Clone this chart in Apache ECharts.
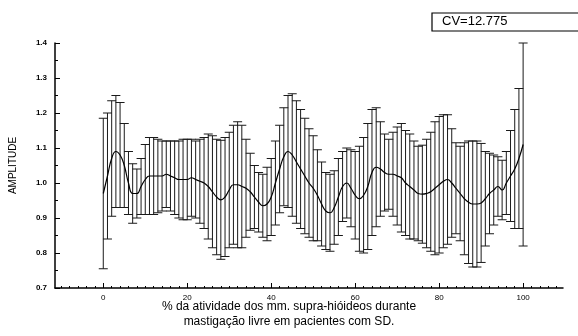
<!DOCTYPE html>
<html>
<head>
<meta charset="utf-8">
<script src="https://cdn.jsdelivr.net/npm/echarts@6/dist/echarts.min.js"></script>
<style>
  html, body { margin: 0; padding: 0; background: #fff; }
  #chart { width: 578px; height: 336px; }
</style>
</head>
<body>
<div id="chart"></div>
<script>
// % of the activity (x position of each point)
const pct = [
  0, 1, 2, 3, 4, 5, 6, 7, 8, 9, 10, 11, 12, 13, 14, 15, 16, 17, 18, 19,
  20, 21, 22, 23, 24, 25, 26, 27, 28, 29, 30, 31, 32, 33, 34, 35, 36, 37, 38, 39,
  40, 41, 42, 43, 44, 45, 46, 47, 48, 49, 50, 51, 52, 53, 54, 55, 56, 57, 58, 59,
  60, 61, 62, 63, 64, 65, 66, 67, 68, 69, 70, 71, 72, 73, 74, 75, 76, 77, 78, 79,
  80, 81, 82, 83, 84, 85, 86, 87, 88, 89, 90, 91, 92, 93, 94, 95, 96, 97, 98, 99, 100
]

// mean amplitude
const meanAmp = [
  0.97, 1.02, 1.07, 1.09, 1.08, 1.05, 1.00, 0.97, 0.97, 0.99,
  1.01, 1.02, 1.02, 1.02, 1.02, 1.025, 1.02, 1.015, 1.01, 1.01,
  1.01, 1.015, 1.01, 1.005, 1.00, 0.99, 0.975, 0.96, 0.952, 0.96,
  0.98, 0.995, 0.995, 0.99, 0.985, 0.975, 0.96, 0.945, 0.935, 0.94,
  0.96, 1.00, 1.04, 1.075, 1.09, 1.08, 1.06, 1.04, 1.02, 1.00,
  0.985, 0.965, 0.94, 0.92, 0.915, 0.93, 0.96, 0.99, 1.00, 0.985,
  0.965, 0.955, 0.965, 0.99, 1.03, 1.045, 1.04, 1.03, 1.025, 1.025,
  1.02, 1.015, 1.00, 0.99, 0.98, 0.97, 0.968, 0.97, 0.975, 0.985,
  0.995, 1.005, 1.01, 1.00, 0.985, 0.97, 0.955, 0.945, 0.94, 0.94,
  0.943, 0.955, 0.97, 0.98, 0.99, 0.98, 1.00, 1.02, 1.04, 1.07, 1.11
]

// standard deviation (half length of each error bar)
const sdAmp = [
  0.215, 0.18, 0.165, 0.16, 0.15, 0.12, 0.09, 0.085, 0.07, 0.08,
  0.10, 0.11, 0.11, 0.105, 0.10, 0.095, 0.10, 0.105, 0.11, 0.115,
  0.115, 0.11, 0.11, 0.12, 0.13, 0.15, 0.16, 0.165, 0.17, 0.17,
  0.165, 0.17, 0.18, 0.175, 0.14, 0.11, 0.09, 0.085, 0.09, 0.105,
  0.11, 0.12, 0.125, 0.14, 0.16, 0.175, 0.175, 0.17, 0.165, 0.155,
  0.15, 0.13, 0.12, 0.11, 0.11, 0.105, 0.11, 0.10, 0.10, 0.11,
  0.125, 0.15, 0.165, 0.18, 0.18, 0.17, 0.135, 0.11, 0.10, 0.12,
  0.14, 0.155, 0.15, 0.15, 0.14, 0.135, 0.14, 0.155, 0.17, 0.19,
  0.195, 0.19, 0.185, 0.155, 0.13, 0.135, 0.16, 0.175, 0.18, 0.18,
  0.17, 0.135, 0.115, 0.10, 0.085, 0.085, 0.09, 0.13, 0.17, 0.20, 0.29
]

const xTicks = [0, 20, 40, 60, 80, 100]
const xMinorTicks = [-10, -8, -6, -4, -2, 2, 4, 6, 8, 10, 12, 14, 16, 18, 22, 24, 26, 28, 30, 32, 34, 36, 38,
  42, 44, 46, 48, 50, 52, 54, 56, 58, 62, 64, 66, 68, 70, 72, 74, 76, 78, 82, 84, 86, 88, 90, 92, 94, 96, 98, 102, 104, 106, 108]

const font = 'Liberation Sans, Arial, sans-serif'

const chart = echarts.init(document.getElementById('chart'))

const meanData = pct.map((x, i) => [x, meanAmp[i]])
const barData = pct.map((x, i) => [x, meanAmp[i] - sdAmp[i], meanAmp[i] + sdAmp[i]])

function renderErrorBar(params, api) {
  const x = api.value(0)
  const lo = api.coord([x, api.value(1)])
  const hi = api.coord([x, api.value(2)])
  const half = 4.5
  const style = { stroke: '#1a1a1a', lineWidth: 1 }
  return {
    type: 'group',
    children: [
      { type: 'line', shape: { x1: lo[0], y1: lo[1], x2: hi[0], y2: hi[1] }, style },
      { type: 'line', shape: { x1: hi[0] - half, y1: hi[1], x2: hi[0] + half, y2: hi[1] }, style },
      { type: 'line', shape: { x1: lo[0] - half, y1: lo[1], x2: lo[0] + half, y2: lo[1] }, style },
    ],
  }
}

const option = {
  animation: false,
  backgroundColor: '#fff',
  grid: { left: 55, right: 15, top: 43, bottom: 48, outerBoundsMode: 'none', containLabel: false },
  xAxis: [
    {
      type: 'value',
      min: -11.5,
      max: 109.5,
      splitLine: { show: false },
      axisLine: { onZero: false, lineStyle: { color: '#000', width: 1.5 } },
      axisTick: { inside: true, length: 5, customValues: xTicks, lineStyle: { color: '#000' } },
      axisLabel: { customValues: xTicks, color: '#000', fontSize: 8, fontFamily: font, margin: 6 },
    },
    {
      type: 'value',
      min: -11.5,
      max: 109.5,
      position: 'bottom',
      offset: 0,
      splitLine: { show: false },
      axisLine: { show: true, onZero: false, lineStyle: { color: 'rgba(0,0,0,0)' } },
      axisTick: { show: true, inside: true, length: 2, customValues: xMinorTicks, lineStyle: { color: '#000' } },
      axisLabel: { show: false },
    },
  ],
  yAxis: {
    type: 'value',
    min: 0.7,
    max: 1.4,
    interval: 0.1,
    name: 'AMPLITUDE',
    nameLocation: 'middle',
    nameGap: 37,
    nameTextStyle: { color: '#000', fontSize: 10, fontFamily: font },
    splitLine: { show: false },
    axisLine: { show: true, onZero: false, lineStyle: { color: '#000', width: 1.5 } },
    axisTick: { inside: true, length: 5, lineStyle: { color: '#000' } },
    minorTick: { show: true, splitNumber: 2, length: 3, lineStyle: { color: '#000' } },
    axisLabel: {
      color: '#000', fontSize: 8, fontFamily: font, fontWeight: 'bold', margin: 8,
      formatter: v => v.toFixed(1),
    },
  },
  series: [
    {
      type: 'custom',
      renderItem: renderErrorBar,
      encode: { x: 0, y: [1, 2] },
      data: barData,
      z: 2,
    },
    {
      type: 'line',
      data: meanData,
      smooth: true,
      showSymbol: false,
      lineStyle: { color: '#000', width: 1.2 },
      z: 3,
    },
  ],
  graphic: [
    {
      type: 'rect',
      shape: { x: 432, y: 13, width: 150, height: 18 },
      style: { fill: '#fff', stroke: '#000', lineWidth: 1.2 },
    },
    {
      type: 'text',
      x: 442, y: 15,
      style: { text: 'CV=12.775', fill: '#000', font: '13px ' + font },
    },
    {
      type: 'text',
      left: 'center',
      top: 299,
      style: {
        text: '% da atividade dos mm. supra-hióideos durante\nmastigação livre em pacientes com SD.',
        fill: '#000', font: '12px ' + font, textAlign: 'center', lineHeight: 15,
      },
    },
  ],
}

chart.setOption(option)
</script>
</body>
</html>
